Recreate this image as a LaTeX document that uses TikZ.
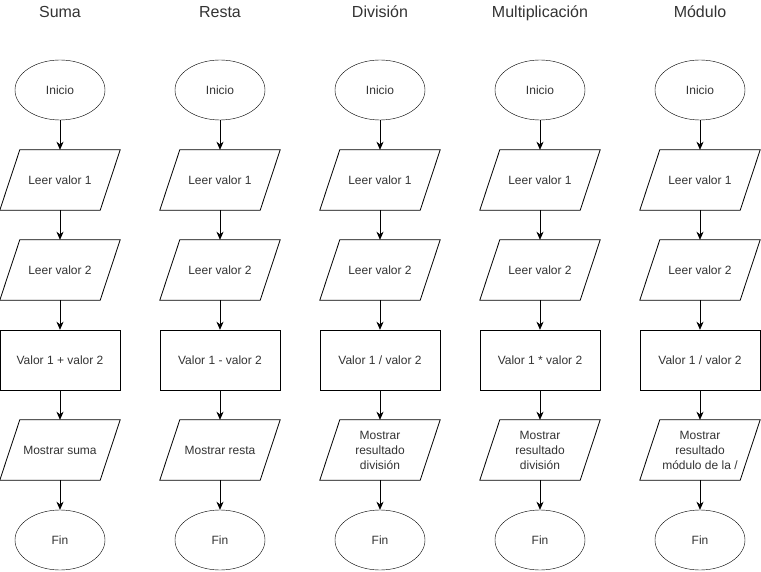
\documentclass[tikz,border=0pt]{standalone}
\usepackage{fontspec}
\setmainfont{Liberation Sans}
\usetikzlibrary{shapes.geometric,arrows.meta}
\definecolor{txt}{HTML}{333333}
\tikzset{
  x=1pt,y=-1pt,
  term/.style={ellipse,draw,minimum width=90pt,minimum height=60pt,inner sep=0pt,font=\fontsize{12}{15}\selectfont,text=txt},
  iobox/.style={rectangle,minimum width=120pt,minimum height=60pt,inner sep=0pt,align=center,font=\fontsize{12}{15}\selectfont,text=txt},
  procbox/.style={rectangle,draw,minimum width=120pt,minimum height=60pt,inner sep=0pt,align=center,font=\fontsize{12}{15}\selectfont,text=txt},
  title/.style={font=\fontsize{16}{19}\selectfont,text=txt,anchor=base,inner sep=0pt},
  flow/.style={-{Stealth[length=8pt,width=7pt,inset=2.5pt]},line width=0.8pt},
  shapeline/.style={line width=0.8pt}
}
\newcommand{\paral}[1]{\draw[shapeline] ([xshift=20pt]#1.north west) -- (#1.north east) -- ([xshift=-20pt]#1.south east) -- (#1.south west) -- cycle;}
\begin{document}
\begin{tikzpicture}
\useasboundingbox (0,0) rectangle (761,572);
\foreach \i/\cx/\ttl/\op/\out in {%
  1/60/Suma/{Valor 1 + valor 2}/{Mostrar suma},
  2/220/Resta/{Valor 1 - valor 2}/{Mostrar resta},
  3/380/División/{Valor 1 / valor 2}/{Mostrar\\resultado\\división},
  4/540/Multiplicación/{Valor 1 * valor 2}/{Mostrar\\resultado\\división},
  5/700/Módulo/{Valor 1 / valor 2}/{Mostrar\\resultado\\módulo de la /}}{
  \node[title] (t\i) at (\cx,17.5) {\ttl};
  \node[term] (s\i) at (\cx,90) {Inicio};
  \node[iobox] (a\i) at (\cx,180) {Leer valor 1};
  \node[iobox] (b\i) at (\cx,270) {Leer valor 2};
  \node[procbox] (c\i) at (\cx,360) {\op};
  \node[iobox] (d\i) at (\cx,450) {\out};
  \node[term] (e\i) at (\cx,540) {Fin};
  \paral{a\i}
  \paral{b\i}
  \paral{d\i}
  \draw[flow] (s\i) -- (a\i);
  \draw[flow] (a\i) -- (b\i);
  \draw[flow] (b\i) -- (c\i);
  \draw[flow] (c\i) -- (d\i);
  \draw[flow] (d\i) -- (e\i);
}
\end{tikzpicture}
\end{document}
